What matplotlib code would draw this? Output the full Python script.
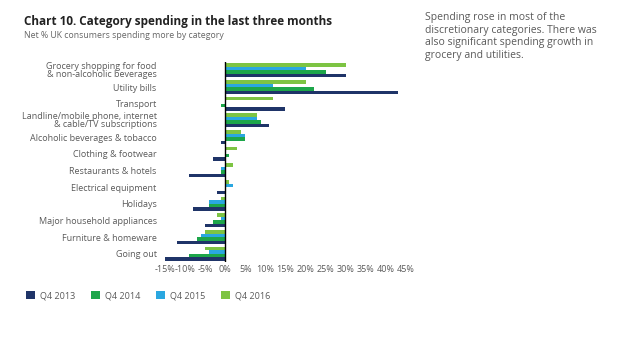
import matplotlib
matplotlib.use("Agg")
import matplotlib.pyplot as plt
import numpy as np

plt.rcParams['font.family'] = ['Open Sans', 'DejaVu Sans']

categories = ["Grocery shopping for food\n& non-alcoholic beverages", "Utility bills", "Transport",
              "Landline/mobile phone, internet\n& cable/TV subscriptions", "Alcoholic beverages & tobacco",
              "Clothing & footwear", "Restaurants & hotels", "Electrical equipment", "Holidays",
              "Major household appliances", "Furniture & homeware", "Going out"]
series = ["Q4 2013", "Q4 2014", "Q4 2015", "Q4 2016"]
q4_2013 = [30, 43, 15, 11, -1, -3, -9, -2, -8, -5, -12, -15]
q4_2014 = [25, 22, -1, 9, 5, 1, -1, 0, -4, -3, -7, -9]
q4_2015 = [20, 12, 0, 8, 5, 0, -1, 2, -4, -1, -6, -4]
q4_2016 = [30, 20, 12, 8, 4, 3, 2, 1, -1, -2, -5, -5]
xticks = list(range(-15, 50, 5))

colors = ["#1f3468", "#1da64a", "#2aa7e0", "#7dc443"]
grey = "#5a5a5a"

fig = plt.figure(figsize=(6.38, 3.59), dpi=100, facecolor='w')
ax = fig.add_axes([0.2586, 0.270, 0.3777, 0.557])

y = np.arange(len(categories))
h = 0.21
for i, vals in enumerate([q4_2013, q4_2014, q4_2015, q4_2016]):
    ax.barh(y + (1.5 - i) * h, vals, height=h, color=colors[i], label=series[i])

ax.axvline(0, color='black', linewidth=1)
ax.set_ylim(len(categories) - 0.5, -0.5)
ax.set_xlim(-15, 45)
ax.set_yticks(y)
ax.set_yticklabels(categories, fontsize=6.5, color=grey, linespacing=0.85)
ax.set_xticks(xticks)
ax.set_xticklabels([str(t) + "%" for t in xticks], fontsize=6.5, color=grey)
ax.tick_params(length=0, axis='y', pad=6)
ax.tick_params(length=0, axis='x', pad=2)
for s in ax.spines.values():
    s.set_visible(False)

fig.text(24/638, 1 - 22/359, "Chart 10. Category spending in the last three months",
         fontsize=8.5, fontweight='bold', color='#222222', va='center')
fig.text(24/638, 1 - 36/359, "Net % UK consumers spending more by category",
         fontsize=6.3, color='#666666', va='center')

fig.text(425/638, 1 - 12/359,
         "Spending rose in most of the\ndiscretionary categories. There was\nalso significant spending growth in\ngrocery and utilities.",
         fontsize=7.5, color=grey, va='top', linespacing=1.2)

leg = fig.legend(loc='lower left', bbox_to_anchor=(26/638, 1 - 300/359), ncol=4, frameon=False,
                 fontsize=6.5, handlelength=1.0, handleheight=1.0, columnspacing=1.75,
                 handletextpad=0.55, borderaxespad=0, borderpad=0)
for t in leg.get_texts():
    t.set_color(grey)

fig.savefig("out.png", dpi=100)
